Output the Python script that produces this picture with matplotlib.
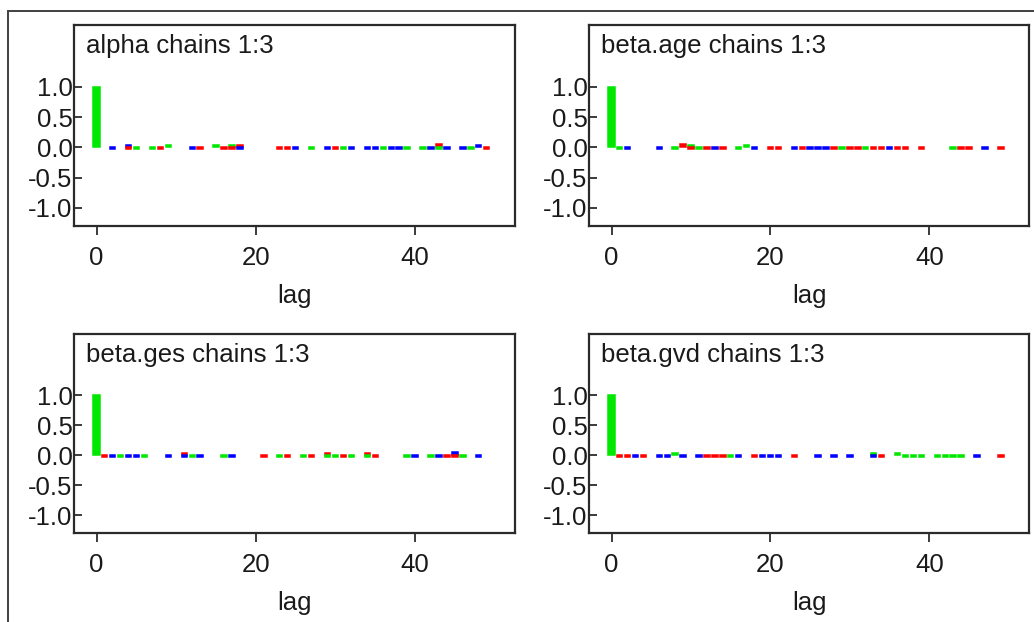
import matplotlib.pyplot as plt
from matplotlib.patches import Rectangle

plt.rcParams['font.family'] = ['Liberation Sans', 'DejaVu Sans']

chain_colours = {'b': '#0000ff', 'r': '#ff0000', 'g': '#00e800'}

titles = ['alpha chains 1:3', 'beta.age chains 1:3',
          'beta.ges chains 1:3', 'beta.gvd chains 1:3']

# autocorrelation marks per panel: lag, chain, value (drawn in order)
alpha_lags = [0, 2, 4, 4, 5, 7, 8, 9, 12, 13, 15, 16, 17, 17, 18, 18, 23, 24, 25,
              27, 29, 30, 31, 32, 34, 35, 36, 37, 38, 39, 41, 42, 43, 43, 44, 46,
              47, 48, 49]
alpha_chain = 'gbbrggrgbrgrgrrbrrbgbrgbbbgbbggbrgbbgbr'
alpha_acf = [1.0, -0.03, 0.04, -0.03, -0.03, -0.03, -0.03, 0.04, -0.03, -0.03,
             0.03, -0.03, 0.04, -0.03, 0.04, -0.03, -0.03, -0.03, -0.03, -0.03,
             -0.03, -0.03, -0.03, -0.03, -0.03, -0.03, -0.03, -0.03, -0.03, -0.03,
             -0.03, -0.03, 0.05, -0.03, -0.03, -0.03, -0.03, 0.04, -0.03]

age_lags = [0, 1, 2, 6, 8, 9, 10, 10, 11, 12, 13, 14, 16, 17, 18, 20, 21, 23, 24,
            25, 26, 27, 28, 29, 30, 31, 32, 33, 34, 35, 36, 37, 39, 43, 44, 45,
            47, 49]
age_chain = 'ggbbgrgrgrbrggbrrbrbbbrgrrgrrbrrrgrrbr'
age_acf = [1.0, -0.03, -0.03, -0.03, -0.03, 0.05, 0.04, -0.03, -0.03, -0.03,
           -0.03, -0.03, -0.03, 0.03, -0.03, -0.03, -0.03, -0.03, -0.03, -0.03,
           -0.03, -0.03, -0.03, -0.03, -0.03, -0.03, -0.03, -0.03, -0.03, -0.03,
           -0.03, -0.03, -0.03, -0.03, -0.03, -0.03, -0.03, -0.03]

ges_lags = [0, 1, 2, 3, 4, 5, 6, 9, 11, 11, 12, 13, 16, 17, 21, 23, 24, 26, 27,
            29, 29, 30, 31, 32, 34, 34, 35, 39, 40, 42, 43, 44, 45, 45, 46, 48]
ges_chain = 'grbgbbgbrbgbgbrgrgrrggrgrgrgbgbrbrgb'
ges_acf = [1.0, -0.03, -0.03, -0.03, -0.03, -0.03, -0.03, -0.03, 0.04, -0.03,
           -0.03, -0.03, -0.03, -0.03, -0.03, -0.03, -0.03, -0.03, -0.03, 0.04,
           -0.03, -0.03, -0.03, -0.03, 0.04, -0.03, -0.03, -0.03, -0.03, -0.03,
           -0.03, -0.03, 0.05, -0.03, -0.03, -0.03]

gvd_lags = [0, 1, 2, 3, 4, 6, 7, 8, 9, 11, 12, 13, 14, 15, 16, 18, 19, 20, 21,
            23, 26, 28, 30, 33, 33, 34, 36, 37, 38, 39, 41, 42, 43, 44, 46, 49]
gvd_chain = 'grrbrbbgbbrrrgbrbbbrbbbgbrggggggggbr'
gvd_acf = [1.0, -0.03, -0.03, -0.03, -0.03, -0.03, -0.03, 0.03, -0.03, -0.03,
           -0.03, -0.03, -0.03, -0.03, -0.03, -0.03, -0.03, -0.03, -0.03, -0.03,
           -0.03, -0.03, -0.03, 0.04, -0.03, -0.03, 0.03, -0.03, -0.03, -0.03,
           -0.03, -0.03, -0.03, -0.03, -0.03, -0.03]

panels = [(alpha_lags, alpha_chain, alpha_acf), (age_lags, age_chain, age_acf),
          (ges_lags, ges_chain, ges_acf), (gvd_lags, gvd_chain, gvd_acf)]

y_ticks = [-1.0, -0.5, 0.0, 0.5, 1.0]
y_ticklabels = ['-1.0', '-0.5', '0.0', '0.5', '1.0']
x_ticks = [0, 20, 40]

W, H = 1034, 622
fig = plt.figure(figsize=(W / 100, H / 100), dpi=100)

# outer frame
fig.patches.append(Rectangle((8 / W, -0.1), 1.2, 1.1 - 11 / H, transform=fig.transFigure,
                             fill=False, edgecolor='#404040', linewidth=1.4))

# axes boxes in pixels: left, top, right, bottom
boxes = [(74, 25, 515, 226), (589, 25, 1029, 226),
         (74, 334, 515, 533), (589, 334, 1029, 533)]

fs = 18.5
for (l, t, r, b), title, (lags, chain, acf) in zip(boxes, titles, panels):
    ax = fig.add_axes([l / W, 1 - b / H, (r - l) / W, (b - t) / H])
    cols = [chain_colours[c] for c in chain]
    widths = [0.95 if lag == 0 else 0.68 for lag in lags]
    ax.bar(lags, acf, width=widths, color=cols, edgecolor=cols, linewidth=1.1)
    ax.set_xlim(-2.85, 52.55)
    ax.set_ylim(-1.3, 2.02)
    ax.set_yticks(y_ticks)
    ax.set_yticklabels(y_ticklabels)
    ax.set_xticks(x_ticks)
    ax.tick_params(axis='y', direction='in', length=6, width=1.2, pad=1,
                   labelsize=fs, colors='#1a1a1a')
    ax.tick_params(axis='x', direction='out', length=6.5, width=1.2, pad=8,
                   labelsize=fs, colors='#1a1a1a')
    ax.set_xlabel('lag', fontsize=fs, color='#1a1a1a', labelpad=10)
    for s in ax.spines.values():
        s.set_linewidth(1.6)
        s.set_color('#2a2a2a')
    ax.text(12 / (r - l), 1 - 28 / (b - t), title, transform=ax.transAxes,
            fontsize=fs, color='#1a1a1a', va='baseline', ha='left')

fig.savefig('out.png', dpi=100)
